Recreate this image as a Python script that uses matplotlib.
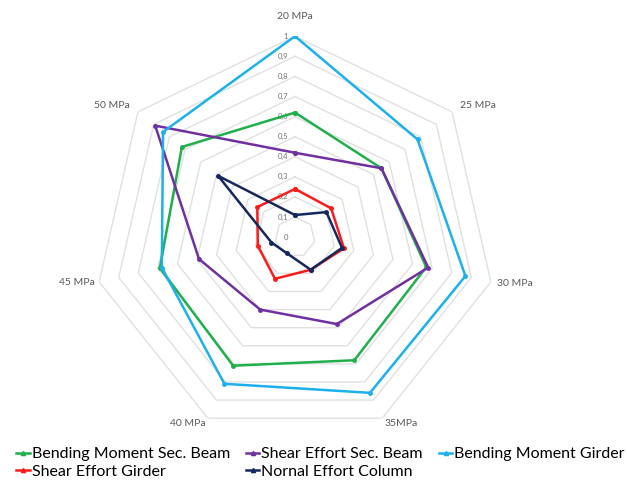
import numpy as np
import matplotlib
matplotlib.use("Agg")
import matplotlib.pyplot as plt
from matplotlib.lines import Line2D

# Concrete strength classes (radar axes)
categories = ["20 MPa", "25 MPa", "30 MPa", "35MPa", "40 MPa", "45 MPa", "50 MPa"]

# Normalised effort ratios per structural element
bending_moment_sec_beam = [0.62, 0.55, 0.67, 0.68, 0.71, 0.69, 0.72]
shear_effort_sec_beam = [0.42, 0.55, 0.68, 0.48, 0.40, 0.49, 0.89]
bending_moment_girder = [1.00, 0.78, 0.87, 0.86, 0.81, 0.68, 0.84]
shear_effort_girder = [0.24, 0.23, 0.25, 0.18, 0.23, 0.19, 0.24]
normal_effort_column = [0.11, 0.20, 0.24, 0.18, 0.09, 0.12, 0.49]

series_names = ["Bending Moment Sec. Beam", "Shear Effort Sec. Beam",
                "Bending Moment Girder", "Shear Effort Girder",
                "Nornal Effort Column"]
series_values = [bending_moment_sec_beam, shear_effort_sec_beam,
                 bending_moment_girder, shear_effort_girder,
                 normal_effort_column]
series_colors = ["#1FAF4B", "#7030A0", "#1CB0EC", "#FF1A1A", "#14285E"]

ring_levels = [0.1, 0.2, 0.3, 0.4, 0.5, 0.6, 0.7, 0.8, 0.9, 1.0]
tick_labels = ["0", "0,1", "0,2", "0,3", "0,4", "0,5", "0,6", "0,7", "0,8", "0,9", "1"]

plt.rcParams["font.family"] = ["Lato", "DejaVu Sans"]

fig = plt.figure(figsize=(6.27, 4.83), dpi=100)
ax = fig.add_axes([0.150, 0.093, 0.641, 0.832], projection="polar")
ax.set_theta_offset(np.pi / 2)
ax.set_theta_direction(-1)
ax.set_ylim(0, 1)
ax.grid(False)
ax.spines["polar"].set_visible(False)
ax.set_xticks([])
ax.set_yticks([])
ax.patch.set_alpha(0)

n = len(categories)
angles = np.linspace(0, 2 * np.pi, n, endpoint=False)
closed_angles = np.concatenate([angles, angles[:1]])

# Heptagonal grid rings
for lvl in ring_levels:
    ax.plot(closed_angles, [lvl] * (n + 1), color="#E0E0E0", lw=1.0, zorder=1)

# Value scale along the first axis
for i, lab in enumerate(tick_labels):
    ax.annotate(lab, xy=(0, i / 10), xytext=(-5, 0), textcoords="offset points",
                ha="right", va="center", fontsize=5.5, color="#707070", zorder=2)

# Category labels around the chart
label_pos = [(1.10, "center"), (1.05, "left"), (1.03, "left"), (1.03, "left"),
             (1.03, "right"), (1.02, "right"), (1.05, "right")]
for ang, cat, (r, ha) in zip(angles, categories, label_pos):
    ax.text(ang, r, cat, ha=ha, va="center", fontsize=7.5, color="#595959",
            clip_on=False)

# Data series
handles = []
for name, vals, col in zip(series_names, series_values, series_colors):
    v = list(vals) + [vals[0]]
    ax.plot(closed_angles, v, color=col, lw=1.8, marker="o", markersize=2.5,
            zorder=3)
    handles.append(Line2D([], [], color=col, lw=1.8, marker="^", markersize=3))

# Legend laid out row by row (matplotlib fills columns first)
order = [0, 3, 1, 4, 2]
fig.legend([handles[i] for i in order], [series_names[i] for i in order],
           loc="lower left", bbox_to_anchor=(0.008, -0.014), ncol=3, frameon=False,
           fontsize=11.5, handlelength=0.85, handletextpad=0.12,
           columnspacing=1.0, labelspacing=0.2, borderpad=0.2)

fig.savefig("out.png", dpi=100)
